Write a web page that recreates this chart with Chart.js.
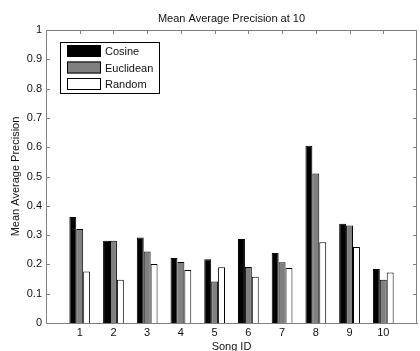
<!DOCTYPE html>
<html>
<head>
<meta charset="utf-8">
<script src="https://cdn.jsdelivr.net/npm/chart.js@4.4.1/dist/chart.umd.min.js"></script>
<style>
  html, body { margin: 0; padding: 0; background: #fff; }
  #wrap { width: 420px; height: 351px; }
</style>
</head>
<body>
<div id="wrap"><canvas id="map-chart"></canvas></div>
<script>
// values
const songIds = [1, 2, 3, 4, 5, 6, 7, 8, 9, 10];
const cosine = [0.362, 0.281, 0.292, 0.222, 0.218, 0.287, 0.239, 0.605, 0.339, 0.184];
const euclidean = [0.321, 0.281, 0.244, 0.208, 0.142, 0.191, 0.207, 0.510, 0.333, 0.148];
const random = [0.176, 0.148, 0.201, 0.181, 0.190, 0.158, 0.188, 0.276, 0.259, 0.172];
const seriesNames = ['Cosine', 'Euclidean', 'Random'];

const FONT = 'Liberation Sans, Arial, sans-serif';
const AXIS_GRAY = '#808080';

const toPoints = vals => vals.map((v, i) => ({ x: songIds[i], y: v }));

// box, inward tick marks, title, legend (matlab look)
const matlabFrame = {
  id: 'matlabFrame',
  afterDatasetsDraw(chart) {
    const { ctx, chartArea: a, scales: { x, y } } = chart;
    ctx.save();
    ctx.strokeStyle = AXIS_GRAY;
    ctx.lineWidth = 1;
    ctx.beginPath();
    ctx.moveTo(a.left + 0.5, a.top + 0.5);
    ctx.lineTo(a.right - 0.5, a.top + 0.5);
    ctx.lineTo(a.right - 0.5, a.bottom + 0.5);
    ctx.stroke();

    const len = 4;
    ctx.beginPath();
    x.ticks.forEach(t => {
      if (t.value < 1 || t.value > 10) return;
      const px = Math.round(x.getPixelForValue(t.value)) + 0.5;
      ctx.moveTo(px, a.bottom);
      ctx.lineTo(px, a.bottom - len);
      ctx.moveTo(px, a.top);
      ctx.lineTo(px, a.top + len);
    });
    y.ticks.forEach(t => {
      const py = Math.round(y.getPixelForValue(t.value)) + 0.5;
      ctx.moveTo(a.left, py);
      ctx.lineTo(a.left + len, py);
      ctx.moveTo(a.right, py);
      ctx.lineTo(a.right - len, py);
    });
    ctx.stroke();

    // title centred on the axes
    ctx.fillStyle = '#111';
    ctx.font = '11px ' + FONT;
    ctx.textAlign = 'center';
    ctx.textBaseline = 'alphabetic';
    ctx.fillText('Mean Average Precision at 10', (a.left + a.right) / 2, 22);

    // legend box in the upper left
    const lx = a.left + 14, ly = a.top + 12;
    ctx.fillStyle = '#fff';
    ctx.fillRect(lx, ly, 99, 51);
    ctx.strokeStyle = '#000';
    ctx.strokeRect(lx + 0.5, ly + 0.5, 99, 51);
    chart.data.datasets.forEach((ds, i) => {
      const ry = ly + 3 + i * 16.5;
      ctx.fillStyle = ds.backgroundColor;
      ctx.fillRect(lx + 7, ry, 34, 12);
      ctx.strokeStyle = '#000';
      ctx.strokeRect(lx + 7.5, ry + 0.5, 33, 11);
      ctx.fillStyle = '#111';
      ctx.textAlign = 'left';
      ctx.fillText(ds.label, lx + 45, ry + 10);
    });
    ctx.restore();
  }
};

new Chart(document.getElementById('map-chart'), {
  type: 'bar',
  data: {
    datasets: [
      { label: seriesNames[0], data: toPoints(cosine), backgroundColor: '#000000' },
      { label: seriesNames[1], data: toPoints(euclidean), backgroundColor: '#808080' },
      { label: seriesNames[2], data: toPoints(random), backgroundColor: '#ffffff' }
    ]
  },
  options: {
    responsive: true,
    maintainAspectRatio: false,
    animation: false,
    layout: { padding: { top: 30, right: 1, left: 0, bottom: 0 } },
    datasets: {
      bar: {
        borderColor: '#000',
        borderWidth: 1,
        categoryPercentage: 0.615,
        barPercentage: 1
      }
    },
    plugins: {
      legend: { display: false },
      tooltip: { enabled: false }
    },
    scales: {
      x: {
        type: 'linear',
        offset: false,
        min: 0,
        max: 11,
        afterFit: s => { s.height = 28; },
        grid: { display: false, drawTicks: false, offset: false },
        border: { display: true, color: AXIS_GRAY },
        ticks: {
          stepSize: 1,
          padding: 3,
          color: '#111',
          font: { family: FONT, size: 11 },
          callback: v => (v >= 1 && v <= 10 ? String(v) : '')
        },
        title: {
          display: true,
          text: 'Song ID',
          color: '#111',
          font: { family: FONT, size: 11 },
          padding: { top: 0, bottom: -3 }
        }
      },
      y: {
        min: 0,
        max: 1,
        afterFit: s => { s.width = 46; },
        grid: { display: false, drawTicks: false },
        border: { display: true, color: AXIS_GRAY },
        ticks: {
          stepSize: 0.1,
          padding: 4,
          color: '#111',
          font: { family: FONT, size: 11 },
          callback: v => String(+v.toFixed(1))
        },
        title: {
          display: true,
          text: 'Mean Average Precision',
          color: '#111',
          font: { family: FONT, size: 11 },
          padding: { top: 9, bottom: 0 }
        }
      }
    }
  },
  plugins: [matlabFrame]
});
</script>
</body>
</html>
